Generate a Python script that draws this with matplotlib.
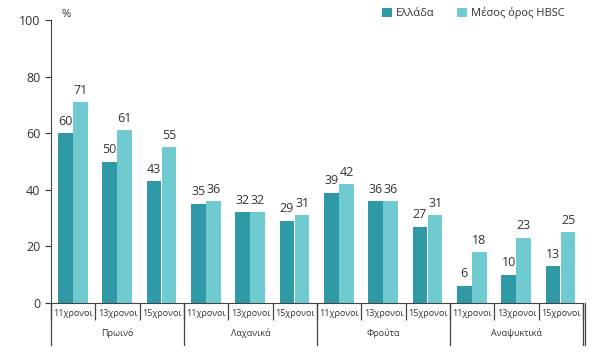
import matplotlib
matplotlib.use('Agg')
import matplotlib.pyplot as plt
import matplotlib.transforms as mtransforms
import numpy as np

plt.rcParams['font.family'] = ['Open Sans', 'DejaVu Sans']

groups = ['Πρωινό', 'Λαχανικά', 'Φρούτα', 'Αναψυκτικά']
ages = ['11χρονοι', '13χρονοι', '15χρονοι']
greece = [60, 50, 43, 35, 32, 29, 39, 36, 27, 6, 10, 13]
hbsc = [71, 61, 55, 36, 32, 31, 42, 36, 31, 18, 23, 25]
series_names = ['Ελλάδα', 'Μέσος όρος HBSC']

dark = '#2f99a5'
light = '#6fcbd0'
txt = '#333333'

fig = plt.figure(figsize=(6.06, 3.64), dpi=100)
ax = fig.add_axes([0.084, 0.1676, 0.878, 0.7774])

n = len(greece)
x = np.arange(n)
w = 0.33
b1 = ax.bar(x - w / 2 - 0.01, greece, w, color=dark, label=series_names[0])
b2 = ax.bar(x + w / 2, hbsc, w, color=light, label=series_names[1])

for bars in (b1, b2):
    for r in bars:
        ax.annotate(f'{r.get_height():.0f}', (r.get_x() + r.get_width() / 2, r.get_height()),
                    xytext=(0, 4), textcoords='offset points', ha='center', va='bottom',
                    fontsize=9, color=txt)

ax.set_xlim(-0.5, n - 0.5)
ax.set_ylim(0, 100)
ax.set_yticks(range(0, 101, 20))
ax.tick_params(axis='y', labelsize=9, colors=txt, length=4, width=0.8)
for s in ['top', 'right']:
    ax.spines[s].set_visible(False)
ax.spines['left'].set_color('#444444')
ax.spines['bottom'].set_color('#444444')

# age labels under every bar pair
ax.set_xticks(x)
ax.set_xticklabels(ages * len(groups), fontsize=6.5, color=txt)
ax.tick_params(axis='x', length=0, pad=4)
ax.set_xticks(np.arange(-0.5, n, 1), minor=True)
ax.tick_params(axis='x', which='minor', length=12, width=0.9, color='#444444', direction='out')

# group labels and long separators
trans = mtransforms.blended_transform_factory(ax.transData, ax.transAxes)
for i, g in enumerate(groups):
    ax.text(i * 3 + 1, -0.105, g, transform=trans, ha='center', va='center',
            fontsize=6.5, color=txt)
for b in np.arange(-0.5, n, 3):
    ax.plot([b, b], [0, -0.148], transform=trans, color='#444444', lw=0.9, clip_on=False)
ax.plot([n - 0.5 + 0.05, n - 0.5 + 0.05], [0, -0.148], transform=trans, color='#444444',
        lw=0.9, clip_on=False)

ax.text(0.02, 1.0, '%', transform=ax.transAxes, fontsize=8, color=txt, va='bottom')

ax.legend(loc='upper right', bbox_to_anchor=(0.985, 1.08), ncol=2, frameon=False,
          fontsize=8, handlelength=0.9, handleheight=0.9, handletextpad=0.4,
          columnspacing=2.0, labelcolor=txt)

fig.savefig('out.png', dpi=100)
